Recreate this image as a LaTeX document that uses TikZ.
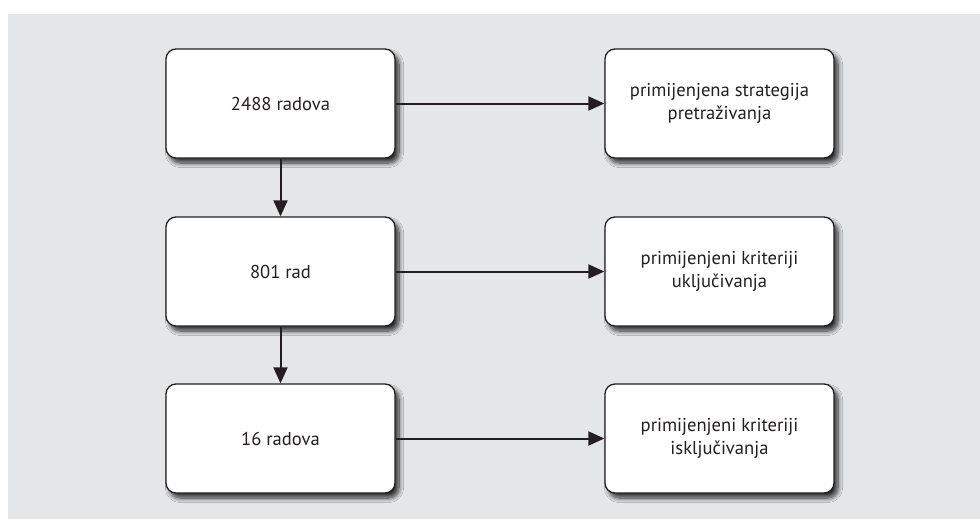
\documentclass[tikz,border=0pt]{standalone}
\usepackage{fontspec}
\setmainfont{PT Sans}
\usetikzlibrary{arrows.meta,shadows.blur}
\definecolor{panel}{HTML}{E5E6E8}
\definecolor{ink}{HTML}{231F20}
\tikzset{
  flowbox/.style={draw=ink, line width=1.3pt, fill=white, rounded corners=10pt,
    minimum width=229pt, minimum height=109pt, align=center, font=\fontsize{18.6}{23.5}\selectfont, text=ink,
    blur shadow={shadow xshift=4pt, shadow yshift=-5pt, shadow blur steps=10, shadow blur radius=4.5pt, shadow opacity=80}},
  flowarrow/.style={draw=ink, line width=2pt, -{Triangle[length=16pt,width=14pt]}},
}
\begin{document}
\begin{tikzpicture}[x=1pt,y=-1pt]
\useasboundingbox (0,0) rectangle (980,519);
\fill[panel] (8,14) rectangle (980,519);
\node[flowbox] (a) at (280.5,103.5) {2488 radova};
\node[flowbox] (b) at (280.5,271.5) {801 rad};
\node[flowbox] (c) at (280.5,438.5) {16 radova};
\node[flowbox] (d) at (719.5,103.5) {primijenjena strategija\\pretraživanja};
\node[flowbox] (e) at (719.5,271.5) {primijenjeni kriteriji\\uključivanja};
\node[flowbox] (f) at (719.5,438.5) {primijenjeni kriteriji\\isključivanja};
\draw[flowarrow] (a) -- (b);
\draw[flowarrow] (b) -- (c);
\draw[flowarrow] (a) -- (d);
\draw[flowarrow] (b) -- (e);
\draw[flowarrow] (c) -- (f);
\end{tikzpicture}
\end{document}
